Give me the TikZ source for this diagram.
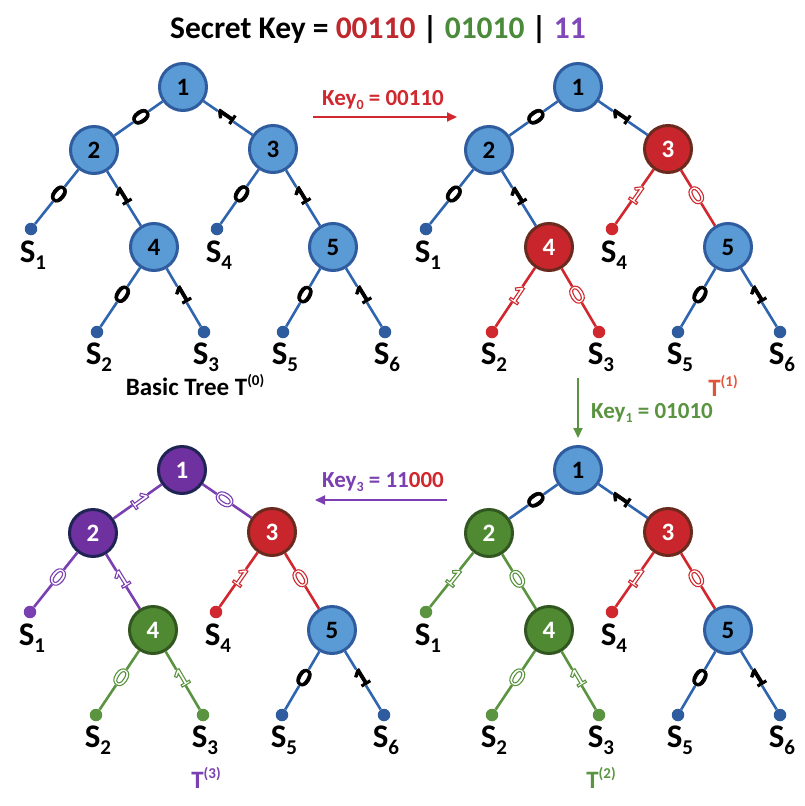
\documentclass[tikz,border=0pt]{standalone}
\usepackage{fontspec}
\setmainfont{Carlito}
\usetikzlibrary{arrows.meta}
\definecolor{nbfill}{HTML}{5B9BD5}
\definecolor{nbdraw}{HTML}{2E5C9E}
\definecolor{ebl}{HTML}{2F65AE}
\definecolor{nrfill}{HTML}{C8262C}
\definecolor{nrdraw}{HTML}{6A2A1E}
\definecolor{erd}{HTML}{D0282E}
\definecolor{ngfill}{HTML}{4F8A33}
\definecolor{ngdraw}{HTML}{32561F}
\definecolor{egr}{HTML}{5A9440}
\definecolor{npfill}{HTML}{7031A0}
\definecolor{npdraw}{HTML}{1F2455}
\definecolor{epu}{HTML}{7A3FB0}
\definecolor{tred}{HTML}{C0282D}
\definecolor{tgreen}{HTML}{4A8A3A}
\definecolor{tpurple}{HTML}{8048B8}
\definecolor{tsup}{HTML}{E0553A}
\newcommand\Sl[1]{S\raisebox{-7pt}{\fontsize{21}{21}\selectfont #1}}
\newcommand\ksub[1]{\raisebox{-4pt}{\fontsize{14}{14}\selectfont #1}}
\newcommand\tsp[1]{T\raisebox{10pt}{\fontsize{15}{15}\selectfont (#1)}}
\newcommand\outl[1]{\special{pdf:literal 1.1 w 1 Tr}#1\special{pdf:literal 0 Tr}}
\newcommand\hvy[1]{\special{pdf:literal 0.7 w 2 Tr}#1\special{pdf:literal 0 Tr}}
\tikzset{
  tnode/.style={circle, minimum size=47pt, inner sep=0pt, line width=3pt, font=\bfseries\fontsize{25}{25}\selectfont},
  NB/.style={tnode, fill=nbfill, draw=nbdraw, text=black},
  NR/.style={tnode, fill=nrfill, draw=nrdraw, text=white},
  NG/.style={tnode, fill=ngfill, draw=ngdraw, text=white},
  NP/.style={tnode, fill=npfill, draw=npdraw, text=white},
  dot/.style={circle, minimum size=12.5pt, inner sep=0pt},
  DB/.style={dot, fill=nbdraw},
  DR/.style={dot, fill=erd},
  DG/.style={dot, fill=egr},
  DP/.style={dot, fill=epu},
  edge/.style={line width=2.6pt},
  EB/.style={edge, draw=ebl},
  ER/.style={edge, draw=erd},
  EG/.style={edge, draw=egr},
  EP/.style={edge, draw=epu},
  elab/.style={pos=0.45, sloped, fill=white, inner sep=0.5pt, font=\bfseries\fontsize{27}{27}\selectfont},
  RL/.style={elab, rotate=90},
  LL/.style={elab, rotate=-90},
  SL/.style={font=\bfseries\fontsize{33}{33}\selectfont, inner sep=0pt},
  keyarrow/.style={line width=2pt, -{Triangle[length=10pt,width=9pt]}},
  keylab/.style={font=\bfseries\fontsize{23}{23}\selectfont, inner sep=0pt},
  tcap/.style={font=\bfseries\fontsize{25}{25}\selectfont, inner sep=0pt},
}
\begin{document}
\begin{tikzpicture}[x=1pt, y=-1pt]
\useasboundingbox (0,0) rectangle (805,806);

\node[font=\bfseries\fontsize{31.5}{31.5}\selectfont, inner sep=0pt] (title) at (378,30)
  {Secret Key = \textcolor{tred}{00110} | \textcolor{tgreen}{01010} | \textcolor{tpurple}{11}};

% ---------- Tree T(0) ----------
\begin{scope}[shift={(183,87)}, name prefix=A-]
\node[NB] (n1) at (0,0) {1};
\node[NB] (n2) at (-89,63) {2};
\node[NB] (n3) at (90,62) {3};
\node[NB] (n4) at (-29,160) {4};
\node[NB] (n5) at (150,160) {5};
\node[DB] (l1) at (-152,142) {};
\node[DB] (l4) at (34,142) {};
\node[DB] (l2) at (-86,245) {};
\node[DB] (l3) at (21,245) {};
\node[DB] (l5) at (100,245) {};
\node[DB] (l6) at (202,245) {};
\node[SL] (s1) at (-150,168) {\Sl{1}};
\node[SL] (s4) at (36,168) {\Sl{4}};
\node[SL] (s2) at (-84,270) {\Sl{2}};
\node[SL] (s3) at (23,270) {\Sl{3}};
\node[SL] (s5) at (102,270) {\Sl{5}};
\node[SL] (s6) at (204,270) {\Sl{6}};
\draw[EB] (n1) -- node[LL]{\hvy{0}} (n2);
\draw[EB] (n1) -- node[RL]{\hvy{1}} (n3);
\draw[EB] (n2) -- node[LL]{\hvy{0}} (l1);
\draw[EB] (n2) -- node[RL]{\hvy{1}} (n4);
\draw[EB] (n3) -- node[LL]{\hvy{0}} (l4);
\draw[EB] (n3) -- node[RL]{\hvy{1}} (n5);
\draw[EB] (n4) -- node[LL]{\hvy{0}} (l2);
\draw[EB] (n4) -- node[RL]{\hvy{1}} (l3);
\draw[EB] (n5) -- node[LL]{\hvy{0}} (l5);
\draw[EB] (n5) -- node[RL]{\hvy{1}} (l6);
\node[tcap] (cap) at (12,298) {Basic Tree \tsp{0}};
\end{scope}

% ---------- Tree T(1) ----------
\begin{scope}[shift={(578,87)}, name prefix=B-]
\node[NB] (n1) at (0,0) {1};
\node[NB] (n2) at (-89,63) {2};
\node[NR] (n3) at (90,62) {3};
\node[NR] (n4) at (-29,160) {4};
\node[NB] (n5) at (150,160) {5};
\node[DB] (l1) at (-152,142) {};
\node[DR] (l4) at (34,142) {};
\node[DR] (l2) at (-86,245) {};
\node[DR] (l3) at (21,245) {};
\node[DB] (l5) at (100,245) {};
\node[DB] (l6) at (202,245) {};
\node[SL] (s1) at (-150,168) {\Sl{1}};
\node[SL] (s4) at (36,168) {\Sl{4}};
\node[SL] (s2) at (-84,270) {\Sl{2}};
\node[SL] (s3) at (23,270) {\Sl{3}};
\node[SL] (s5) at (102,270) {\Sl{5}};
\node[SL] (s6) at (204,270) {\Sl{6}};
\draw[EB] (n1) -- node[LL]{\hvy{0}} (n2);
\draw[EB] (n1) -- node[RL]{\hvy{1}} (n3);
\draw[EB] (n2) -- node[LL]{\hvy{0}} (l1);
\draw[EB] (n2) -- node[RL]{\hvy{1}} (n4);
\draw[ER] (n3) -- node[LL, text=erd]{\outl{1}} (l4);
\draw[ER] (n3) -- node[RL, text=erd]{\outl{0}} (n5);
\draw[ER] (n4) -- node[LL, text=erd]{\outl{1}} (l2);
\draw[ER] (n4) -- node[RL, text=erd]{\outl{0}} (l3);
\draw[EB] (n5) -- node[LL]{\hvy{0}} (l5);
\draw[EB] (n5) -- node[RL]{\hvy{1}} (l6);
\node[tcap, text=tsup] (cap) at (145,299) {\tsp{1}};
\end{scope}

% ---------- Tree T(2) ----------
\begin{scope}[shift={(578,470)}, name prefix=C-]
\node[NB] (n1) at (0,0) {1};
\node[NG] (n2) at (-89,63) {2};
\node[NR] (n3) at (90,62) {3};
\node[NG] (n4) at (-29,160) {4};
\node[NB] (n5) at (150,160) {5};
\node[DG] (l1) at (-152,142) {};
\node[DR] (l4) at (34,142) {};
\node[DG] (l2) at (-86,245) {};
\node[DG] (l3) at (21,245) {};
\node[DB] (l5) at (100,245) {};
\node[DB] (l6) at (202,245) {};
\node[SL] (s1) at (-150,168) {\Sl{1}};
\node[SL] (s4) at (36,168) {\Sl{4}};
\node[SL] (s2) at (-84,270) {\Sl{2}};
\node[SL] (s3) at (23,270) {\Sl{3}};
\node[SL] (s5) at (102,270) {\Sl{5}};
\node[SL] (s6) at (204,270) {\Sl{6}};
\draw[EB] (n1) -- node[LL]{\hvy{0}} (n2);
\draw[EB] (n1) -- node[RL]{\hvy{1}} (n3);
\draw[EG] (n2) -- node[LL, text=egr]{\outl{1}} (l1);
\draw[EG] (n2) -- node[RL, text=egr]{\outl{0}} (n4);
\draw[ER] (n3) -- node[LL, text=erd]{\outl{1}} (l4);
\draw[ER] (n3) -- node[RL, text=erd]{\outl{0}} (n5);
\draw[EG] (n4) -- node[LL, text=egr]{\outl{0}} (l2);
\draw[EG] (n4) -- node[RL, text=egr]{\outl{1}} (l3);
\draw[EB] (n5) -- node[LL]{\hvy{0}} (l5);
\draw[EB] (n5) -- node[RL]{\hvy{1}} (l6);
\node[tcap, text=egr] (cap) at (23,308) {\tsp{2}};
\end{scope}

% ---------- Tree T(3) ----------
\begin{scope}[shift={(182,470)}, name prefix=D-]
\node[NP] (n1) at (0,0) {1};
\node[NP] (n2) at (-89,63) {2};
\node[NR] (n3) at (90,62) {3};
\node[NG] (n4) at (-29,160) {4};
\node[NB] (n5) at (150,160) {5};
\node[DP] (l1) at (-152,142) {};
\node[DR] (l4) at (34,142) {};
\node[DG] (l2) at (-86,245) {};
\node[DG] (l3) at (21,245) {};
\node[DB] (l5) at (100,245) {};
\node[DB] (l6) at (202,245) {};
\node[SL] (s1) at (-150,168) {\Sl{1}};
\node[SL] (s4) at (36,168) {\Sl{4}};
\node[SL] (s2) at (-84,270) {\Sl{2}};
\node[SL] (s3) at (23,270) {\Sl{3}};
\node[SL] (s5) at (102,270) {\Sl{5}};
\node[SL] (s6) at (204,270) {\Sl{6}};
\draw[EP] (n1) -- node[LL, text=epu]{\outl{1}} (n2);
\draw[EP] (n1) -- node[RL, text=epu]{\outl{0}} (n3);
\draw[EP] (n2) -- node[LL, text=epu]{\outl{0}} (l1);
\draw[EP] (n2) -- node[RL, text=epu]{\outl{1}} (n4);
\draw[ER] (n3) -- node[LL, text=erd]{\outl{1}} (l4);
\draw[ER] (n3) -- node[RL, text=erd]{\outl{0}} (n5);
\draw[EG] (n4) -- node[LL, text=egr]{\outl{0}} (l2);
\draw[EG] (n4) -- node[RL, text=egr]{\outl{1}} (l3);
\draw[EB] (n5) -- node[LL]{\hvy{0}} (l5);
\draw[EB] (n5) -- node[RL]{\hvy{1}} (l6);
\node[tcap, text=epu] (cap) at (24,308) {\tsp{3}};
\end{scope}

% ---------- Key arrows ----------
\coordinate (k0a) at (313,117);
\coordinate (k0b) at (457,117);
\draw[keyarrow, draw=erd, fill=erd] (k0a) -- (k0b);
\node[keylab, text=erd] (k0l) at (383,100) {Key\ksub{0} = 00110};

\coordinate (k1a) at (578,378);
\coordinate (k1b) at (578,438);
\draw[keyarrow, draw=egr, fill=egr] (k1a) -- (k1b);
\node[keylab, text=egr, anchor=west] (k1l) at (591,413) {Key\ksub{1} = 01010};

\coordinate (k3a) at (447,500);
\coordinate (k3b) at (315,500);
\draw[keyarrow, draw=epu, fill=epu] (k3a) -- (k3b);
\node[keylab, text=epu] (k3l) at (383,482) {Key\ksub{3} = 11\textcolor{erd}{000}};
\end{tikzpicture}
\end{document}
